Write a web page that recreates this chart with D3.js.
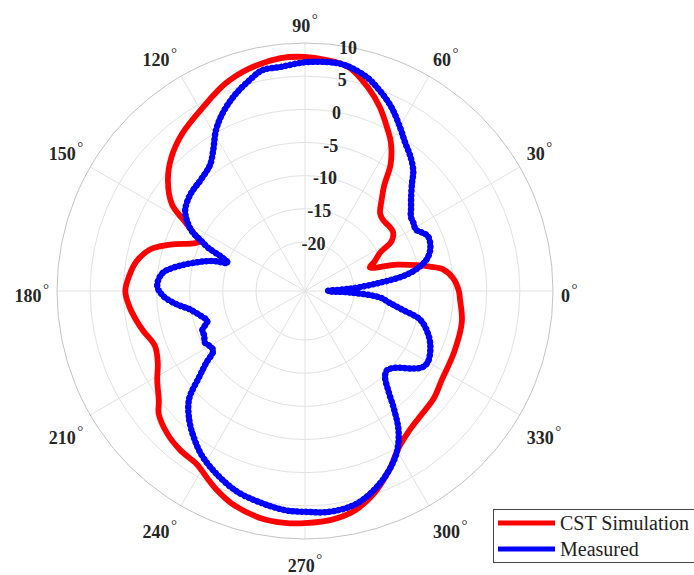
<!DOCTYPE html>
<html>
<head>
<meta charset="utf-8">
<script src="https://cdn.jsdelivr.net/npm/d3@7/dist/d3.min.js"></script>
<style>
  html, body { margin: 0; padding: 0; background: #fff; }
  svg { display: block; }
</style>
</head>
<body>
<svg id="chart" width="694" height="575"></svg>
<script>
// ---- data (angle in degrees, value in dB) ----
const cstAngles = [0,5,9,11,13,16,20,23,27,30,34,38,42,46,50,53,56,60,63,68,73,79,85,90,96,104,111,119,128,135,141,147,150,153,155,157,161,165,170,175,180,185,190,194,200,206,211,217,220,226,232,238,243,246,251,259,265,270,277,283,289,295,301,306,312,320,327,338,349,357];
const cstValues = [-4.2,-5.0,-6.4,-8.2,-10.1,-13.0,-17.0,-16.0,-14.7,-12.3,-11.4,-11.4,-11.5,-11.1,-9.4,-7.6,-4.3,-1.5,0.0,2.6,4.8,7.0,7.6,7.9,7.9,7.2,6.1,4.3,2.7,1.1,-0.8,-3.5,-6.5,-8.8,-9.8,-9.0,-5.9,-3.2,-1.6,-0.8,-0.3,-0.8,-1.6,-2.3,-3.3,-2.7,-1.4,0.2,1.4,2.5,3.1,3.4,4.6,5.4,6.5,7.5,7.7,7.6,7.3,6.5,4.8,2.5,0.1,-1.0,-1.7,-2.1,-2.8,-3.1,-3.3,-4.0];

const measAngles = [0,3,6,9,12,15,19,24,27,29,32,35,38,41,45,48,52,56,60,65,70,74,80,84,90,96,101,105,110,115,119,123,127,133,140,146,149,152,154,156,158,160,162,165,170,173,178,182,186,189,194,197,201,204,207,210,213,216,219,223,228,233,238,244,251,258,265,270,276,283,289,295,300,304,307,310,313,316,320,324,327,330,336,341,346,349,352,355,358];
const measValues = [-24.0,-20.5,-16.5,-12.0,-9.7,-8.3,-7.4,-7.1,-7.8,-8.3,-8.1,-7.9,-7.1,-6.2,-4.6,-3.0,-1.6,-0.4,1.2,3.3,5.0,6.2,7.2,7.3,7.1,6.6,6.5,5.4,3.9,2.1,0.3,-2.0,-3.6,-4.4,-4.8,-5.6,-6.6,-8.0,-9.8,-11.5,-14.0,-15.0,-12.8,-10.6,-7.2,-5.7,-5.1,-6.0,-8.0,-9.8,-11.4,-12.0,-10.8,-10.8,-10.4,-10.8,-10.9,-9.0,-6.9,-3.5,-1.3,0.4,1.9,3.2,4.5,5.2,5.8,5.9,6.1,5.7,4.4,2.5,0.4,-2.2,-5.1,-7.9,-9.7,-10.2,-9.4,-7.5,-6.3,-6.0,-6.7,-7.8,-9.5,-12.3,-14.5,-16.0,-20.3];

const rTicks = [-20,-15,-10,-5,0,5,10];
const thetaTicks = [0,30,60,90,120,150,180,210,240,270,300,330];
const seriesNames = ["CST Simulation", "Measured"];
const seriesColors = ["#ff0000", "#0000ff"];

// ---- layout ----
const cx = 305, cy = 291, R = 248;
const rMin = -27.4, rMax = 10;
const rScale = d3.scaleLinear().domain([rMin, rMax]).range([0, R]);
const toRad = d => d * Math.PI / 180;

const svg = d3.select("#chart");
const g = svg.append("g").attr("transform", `translate(${cx},${cy})`);

// grid circles
g.selectAll("circle.grid").data(rTicks.filter(t => t !== rMax)).enter()
  .append("circle").attr("class", "grid")
  .attr("r", d => rScale(d))
  .attr("fill", "none").attr("stroke", "#e2e2e2").attr("stroke-width", 1);

// spokes
g.selectAll("line.spoke").data(thetaTicks).enter()
  .append("line").attr("class", "spoke")
  .attr("x1", 0).attr("y1", 0)
  .attr("x2", d => R * Math.cos(toRad(d)))
  .attr("y2", d => -R * Math.sin(toRad(d)))
  .attr("stroke", "#e2e2e2").attr("stroke-width", 1);

// outer circle
g.append("circle").attr("r", rScale(rMax))
  .attr("fill", "none").attr("stroke", "#c4c4c4").attr("stroke-width", 1);

// radial tick labels (at 80 deg)
const rAxAng = toRad(80);
g.selectAll("text.rtick").data(rTicks).enter()
  .append("text").attr("class", "rtick")
  .attr("x", d => rScale(d) * Math.cos(rAxAng))
  .attr("y", d => -rScale(d) * Math.sin(rAxAng) + 7)
  .attr("text-anchor", "middle")
  .attr("font-family", "'Liberation Serif', 'Times New Roman', serif")
  .attr("font-weight", "bold").attr("font-size", 18)
  .attr("fill", "#262626")
  .text(d => String(d));

// data lines
const line = d3.lineRadial()
  .angle(d => toRad(90 - d[0]))
  .radius(d => rScale(d[1]))
  .curve(d3.curveCatmullRomClosed.alpha(0.5));

const cstData = cstAngles.map((a, i) => [a, cstValues[i]]);
const measData = measAngles.map((a, i) => [a, measValues[i]]);

g.append("path").datum(cstData)
  .attr("d", line).attr("fill", "none")
  .attr("stroke", seriesColors[0]).attr("stroke-width", 5.8)
  .attr("stroke-linejoin", "round");

g.append("path").datum(measData)
  .attr("d", line).attr("fill", "none")
  .attr("stroke", seriesColors[1]).attr("stroke-width", 5)
  .attr("stroke-linejoin", "round");
g.append("path").datum(measData)
  .attr("d", line).attr("fill", "none")
  .attr("stroke", seriesColors[1]).attr("stroke-width", 6.5)
  .attr("stroke-dasharray", "0.1 4.5").attr("stroke-linecap", "round");

// angle labels
const labR = R + 8;
const tl = g.selectAll("text.ttick").data(thetaTicks).enter()
  .append("text").attr("class", "ttick")
  .attr("x", d => labR * Math.cos(toRad(d)))
  .attr("y", d => {
    const s = Math.sin(toRad(d));
    const y = -labR * s;
    if (s > 0.01) return y - 3;
    if (s < -0.01) return y + 25;
    return y + 11;
  })
  .attr("text-anchor", d => {
    const c = Math.cos(toRad(d));
    return c > 0.01 ? "start" : (c < -0.01 ? "end" : "middle");
  })
  .attr("font-family", "'Liberation Serif', 'Times New Roman', serif")
  .attr("font-weight", "bold").attr("font-size", 18)
  .attr("fill", "#262626");
tl.append("tspan").text(d => String(d));
tl.append("tspan").attr("dx", 1.5).attr("dy", -8)
  .attr("font-size", 15).attr("font-weight", "normal").text("°");

// legend
const lg = svg.append("g");
lg.append("rect").attr("x", 493.5).attr("y", 509.5).attr("width", 215).attr("height", 53)
  .attr("fill", "#fff").attr("stroke", "#444").attr("stroke-width", 1);
seriesNames.forEach((name, i) => {
  const y = 523 + i * 26;
  lg.append("line").attr("x1", 498).attr("x2", 555).attr("y1", y).attr("y2", y)
    .attr("stroke", seriesColors[i]).attr("stroke-width", 5);
  lg.append("text").attr("x", 560).attr("y", y + 6.5)
    .attr("font-family", "'Liberation Serif', 'Times New Roman', serif")
    .attr("font-size", 20).attr("fill", "#222").text(name);
});
</script>
</body>
</html>
